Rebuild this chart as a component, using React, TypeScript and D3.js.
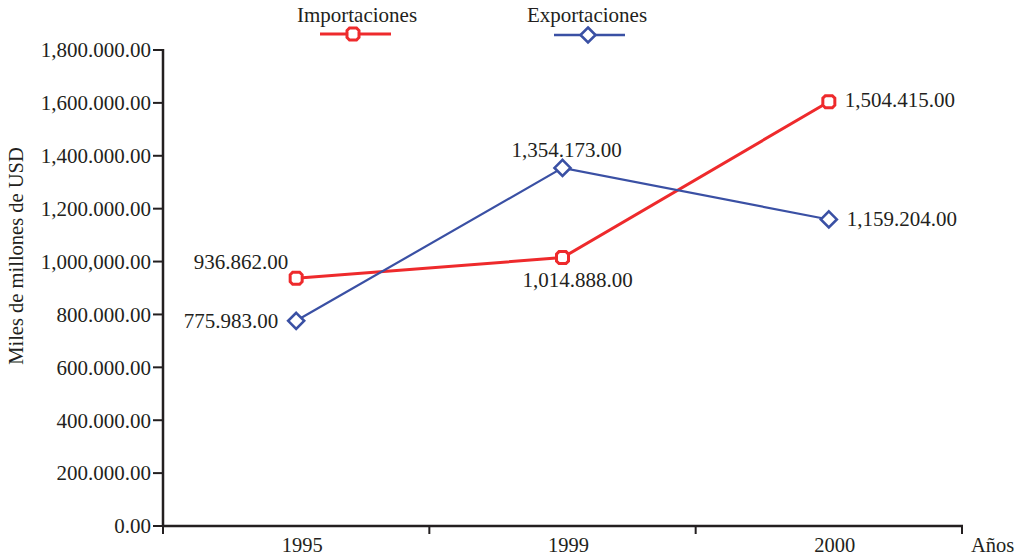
import React from "react";
import * as d3 from "d3";

const years = ["1995", "1999", "2000"];
const importaciones = [936862, 1014888, 1604415];
const exportaciones = [775983, 1354173, 1159204];
const importLabels = ["936.862.00", "1,014.888.00", "1,504.415.00"];
const exportLabels = ["775.983.00", "1,354.173.00", "1,159.204.00"];
const yTicks = [0, 200000, 400000, 600000, 800000, 1000000, 1200000, 1400000, 1600000, 1800000];
const yTickLabels = ["0.00", "200.000.00", "400.000.00", "600.000.00", "800.000.00", "1,000,000.00", "1,200.000.00", "1,400.000.00", "1,600.000.00", "1,800.000.00"];

const RED = "#ee2a2c";
const BLUE = "#3a50a4";
const TXT = "#231f20";
const FONT = "'Liberation Serif', 'Times New Roman', serif";
const FS = 21;

const squarePath = (s: number, c: number) =>
  `M${-s + c},${-s}H${s - c}L${s},${-s + c}V${s - c}L${s - c},${s}H${-s + c}L${-s},${s - c}V${-s + c}Z`;
const diamondPath = (r: number) => `M0,${-r}L${r},0L0,${r}L${-r},0Z`;

export default function App() {
  const x = d3.scaleBand<string>().domain(years).range([163, 962]);
  const y = d3.scaleLinear().domain([0, 1800000]).range([526, 50]);
  const cx = (d: string) => (x(d) ?? 0) + x.bandwidth() / 2;
  const line = d3
    .line<number>()
    .x((_, i) => cx(years[i]))
    .y((v) => y(v));
  const boundaries = [...years.map((d) => x(d) ?? 0), 962];

  const impLabelPos = [
    { dx: -8, dy: -9, anchor: "end" },
    { dx: 15, dy: 29, anchor: "middle" },
    { dx: 16, dy: 5, anchor: "start" },
  ];
  const expLabelPos = [
    { dx: -18, dy: 7, anchor: "end" },
    { dx: 4, dy: -11, anchor: "middle" },
    { dx: 18, dy: 7, anchor: "start" },
  ];

  return (
    <svg
      width={1023}
      height={557}
      style={{ position: "absolute", left: 0, top: 0, background: "#fff" }}
      fontFamily={FONT}
    >
      {/* Axes */}
      <line x1={163} x2={163} y1={49} y2={527} stroke={TXT} strokeWidth={2.5} />
      <line x1={162} x2={963} y1={526} y2={526} stroke={TXT} strokeWidth={2.5} />
      {yTicks.map((t, i) => (
        <g key={t}>
          <line x1={153} x2={163} y1={y(t)} y2={y(t)} stroke={TXT} strokeWidth={2} />
          <text x={151} y={y(t)} dy="0.35em" textAnchor="end" fontSize={FS} fill={TXT}>
            {yTickLabels[i]}
          </text>
        </g>
      ))}
      {boundaries.map((b, i) => (
        <line key={i} x1={b} x2={b} y1={526} y2={534} stroke={TXT} strokeWidth={2} />
      ))}
      {years.map((d) => (
        <text key={d} x={cx(d) + 6} y={552} textAnchor="middle" fontSize={20.5} fill={TXT}>
          {d}
        </text>
      ))}
      <text x={971} y={552} fontSize={20.5} fill={TXT}>
        Años
      </text>
      <text
        transform={`translate(23,256) rotate(-90)`}
        textAnchor="middle"
        fontSize={20.5}
        fill={TXT}
      >
        Miles de millones de USD
      </text>

      {/* Lines */}
      <path d={line(importaciones) ?? ""} fill="none" stroke={RED} strokeWidth={3} />
      <path d={line(exportaciones) ?? ""} fill="none" stroke={BLUE} strokeWidth={2.2} />

      {/* Markers */}
      {importaciones.map((v, i) => (
        <path
          key={"im" + i}
          d={squarePath(6, 2.5)}
          transform={`translate(${cx(years[i])},${y(v)})`}
          fill="#fff"
          stroke={RED}
          strokeWidth={3}
        />
      ))}
      {exportaciones.map((v, i) => (
        <path
          key={"ex" + i}
          d={diamondPath(8)}
          transform={`translate(${cx(years[i])},${y(v)})`}
          fill="#fff"
          stroke={BLUE}
          strokeWidth={2.6}
        />
      ))}

      {/* Data labels */}
      {importaciones.map((v, i) => (
        <text
          key={"il" + i}
          x={cx(years[i]) + impLabelPos[i].dx}
          y={y(v) + impLabelPos[i].dy}
          textAnchor={impLabelPos[i].anchor as any}
          fontSize={FS}
          fill={TXT}
        >
          {importLabels[i]}
        </text>
      ))}
      {exportaciones.map((v, i) => (
        <text
          key={"el" + i}
          x={cx(years[i]) + expLabelPos[i].dx}
          y={y(v) + expLabelPos[i].dy}
          textAnchor={expLabelPos[i].anchor as any}
          fontSize={FS}
          fill={TXT}
        >
          {exportLabels[i]}
        </text>
      ))}

      {/* Legend */}
      <g>
        <text x={357} y={22} textAnchor="middle" fontSize={FS} fill={TXT}>
          Importaciones
        </text>
        <line x1={320} x2={391} y1={34} y2={34} stroke={RED} strokeWidth={3} />
        <path d={squarePath(6, 2.5)} transform="translate(353,34)" fill="#fff" stroke={RED} strokeWidth={3} />
        <text x={587} y={22} textAnchor="middle" fontSize={FS} fill={TXT}>
          Exportaciones
        </text>
        <line x1={554} x2={625} y1={35} y2={35} stroke={BLUE} strokeWidth={2.6} />
        <path d={diamondPath(7.5)} transform="translate(588,35)" fill="#fff" stroke={BLUE} strokeWidth={2.6} />
      </g>
    </svg>
  );
}
